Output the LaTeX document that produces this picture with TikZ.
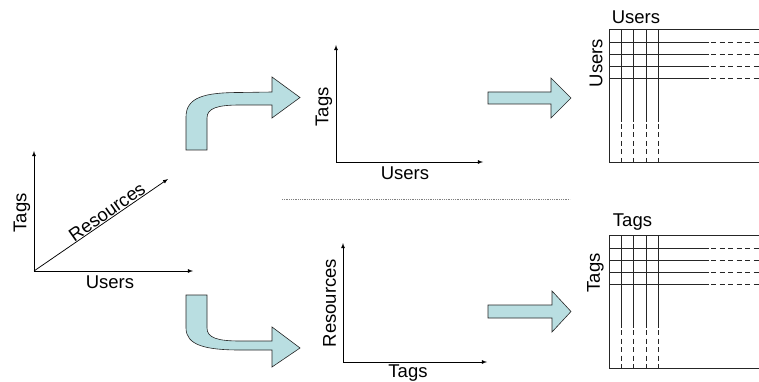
\documentclass[tikz,border=0pt]{standalone}
\usepackage{fontspec}
\setmainfont{Liberation Sans}
\usetikzlibrary{arrows.meta}
\definecolor{arrowfill}{RGB}{185,222,225}

\tikzset{
    axis/.style={-latex, line width=0.75pt},
    bigarrow/.style={fill=arrowfill, draw=black!85, line width=0.6pt},
    lbl/.style={inner sep=0pt, font=\fontsize{18.5}{22}\selectfont},
    matline/.style={line width=0.9pt, black!85},
    matdash/.style={matline, dash pattern=on 5pt off 3.5pt}
}

\begin{document}
\begin{tikzpicture}[x=1pt, y=-1pt]
    \useasboundingbox (0,0) rectangle (759,382);

    % Users x Tags x Resources
    \coordinate (o) at (34,271);
    \coordinate (ou) at (193,271);
    \coordinate (ot) at (34,151);
    \coordinate (or) at (168,179);
    \draw[axis] (o) -- (ou); % Users axis
    \draw[axis] (o) -- (ot); % Tags axis
    \draw[axis] (o) -- (or); % Resources axis
    \node[lbl, rotate=90] (tagsA) at (22,213) {Tags};
    \node[lbl] (usersA) at (110,282) {Users};
    \node[lbl, rotate=35] (resA) at (107,212) {Resources};

    % bent arrows to the two projections
    \draw[bigarrow] (186,150) -- (186,117) .. controls (186,97) and (205,92.5) .. (240,92.5)
        -- (272,92) -- (272,77) -- (300,97.5) -- (272,118) -- (272,105) -- (240,105)
        .. controls (218,105) and (207,108) .. (207,118) -- (207,150) -- cycle;
    \draw[bigarrow] (186,295) -- (186,328) .. controls (186,345) and (205,350) .. (240,350)
        -- (272,350) -- (272,367) -- (300,348) -- (272,327) -- (272,341) -- (240,341)
        .. controls (218,341) and (207,338) .. (207,328) -- (207,295) -- cycle;

    % Users x Tags
    \coordinate (p) at (336,162);
    \coordinate (pu) at (483,162);
    \coordinate (pt) at (336,45);
    \draw[axis] (p) -- (pu);
    \draw[axis] (p) -- (pt);
    \node[lbl, rotate=90] (tagsB) at (324,107) {Tags};
    \node[lbl] (usersB) at (405,173.5) {Users};

    % Tags x Resources
    \coordinate (q) at (343,362);
    \coordinate (qt) at (487,362);
    \coordinate (qr) at (343,243);
    \draw[axis] (q) -- (qt);
    \draw[axis] (q) -- (qr);
    \node[lbl, rotate=90] (resC) at (329.5,303) {Resources};
    \node[lbl] (tagsC) at (408,373.5) {Tags};

    % separator
    \draw[densely dotted, gray, line width=0.8pt] (282,199) -- (570,199);

    % straight arrows to the square matrices
    \draw[bigarrow] (488,92) -- (551,92) -- (551,78) -- (571,98) -- (551,118)
        -- (551,104) -- (488,104) -- cycle;
    \draw[bigarrow] (488,305) -- (552,305) -- (552,291) -- (571,311.5) -- (552,332)
        -- (552,318) -- (488,318) -- cycle;

    % matrices, the second one 206 lower
    \foreach \dy in {0,206} {
        \begin{scope}[yshift=-\dy pt]
            \draw[matline] (760,29) -- (609,29) -- (609,162) -- (760,162); % frame
            \foreach \x in {621,633.5,646,658} {
                \draw[matline] (\x,29) -- (\x,122);
                \draw[matdash] (\x,124) -- (\x,162);
            }
            \foreach \y in {42,54,66,78} {
                \draw[matline] (609,\y) -- (709,\y);
                \draw[matdash] (711,\y) -- (760,\y);
            }
        \end{scope}
    }
    \node[lbl] (usersT) at (636,17) {Users};
    \node[lbl, rotate=90] (usersL) at (596,63) {Users};
    \node[lbl] (tagsT) at (632.5,222) {Tags};
    \node[lbl, rotate=90] (tagsL) at (595.5,273) {Tags};
\end{tikzpicture}
\end{document}
